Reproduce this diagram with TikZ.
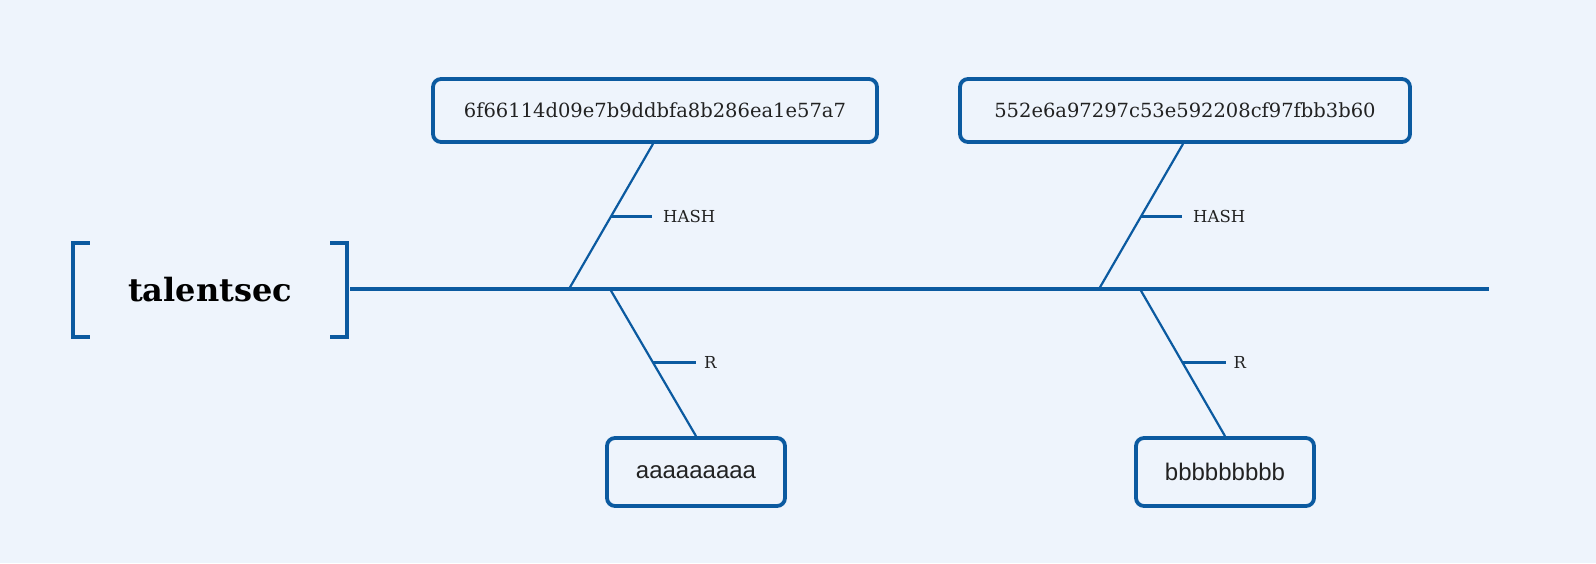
\documentclass[tikz,border=0pt]{standalone}
\usepackage{fontspec}
\setmainfont{DejaVu Serif}
\newfontfamily\leafsans{Liberation Sans}
\usetikzlibrary{positioning}
\definecolor{bone}{HTML}{0B5AA0}
\definecolor{paper}{HTML}{EEF4FC}
\definecolor{ink}{HTML}{222222}

\begin{document}
\begin{tikzpicture}[x=1pt,y=-1pt,
    spine/.style={draw=bone,line width=4pt},
    branch/.style={draw=bone,line width=2.2pt},
    hash node/.style={draw=bone,line width=3.8pt,rounded corners=8pt,fill=paper,text=ink,
      minimum height=63pt,font=\fontsize{19.5}{22}\selectfont},
    leaf node/.style={hash node,minimum width=178pt,minimum height=68pt,
      font=\leafsans\fontsize{24}{26}\selectfont},
    tag/.style={text=ink,anchor=west,inner sep=0pt,font=\fontsize{16.5}{18}\selectfont}]

  % page
  \fill[paper] (0,0) rectangle (1596,563);
  \useasboundingbox (0,0) rectangle (1596,563);

  % head of the fish
  \node[minimum width=274pt,minimum height=94pt,inner sep=0pt,text=black,
    font=\bfseries\fontsize{32}{34}\selectfont] (topic) at (210,290) {talentsec};
  \draw[spine,line cap=butt] ([xshift=17pt]topic.north west) -| (topic.south west) -- ++(17,0);
  \draw[spine,line cap=butt] ([xshift=-17pt]topic.north east) -| (topic.south east) -- ++(-17,0);

  \coordinate (tail) at (1489,289);
  \path[spine] (topic.east |- tail) ++(3,0) coordinate (head) -- (tail);

  % causes
  \node[hash node,minimum width=444pt] (h1) at (655,110.5) {6f66114d09e7b9ddbfa8b286ea1e57a7};
  \node[hash node,minimum width=450pt] (h2) at (1185,110.5) {552e6a97297c53e592208cf97fbb3b60};
  \node[leaf node] (r1) at (696,472) {aaaaaaaaa};
  \node[leaf node] (r2) at (1225,472) {bbbbbbbbb};

  \coordinate (s1) at (569,289);
  \coordinate (s2) at (610,289);
  \coordinate (s3) at (1099,289);
  \coordinate (s4) at (1140,289);

  \path[branch]
    (s1) -- coordinate[pos=.5] (m1) ([xshift=-2pt]h1.south)
    (s2) -- coordinate[pos=.5] (m2) (r1.north)
    (s3) -- coordinate[pos=.5] (m3) ([xshift=-2pt]h2.south)
    (s4) -- coordinate[pos=.5] (m4) (r2.north);

  \node[tag] (t1) at ([xshift=52pt]m1) {HASH};
  \node[tag] (t2) at ([xshift=51pt]m2) {R};
  \node[tag] (t3) at ([xshift=52pt]m3) {HASH};
  \node[tag] (t4) at ([xshift=51pt]m4) {R};

  \path[branch]
    (m1) -- ++(41,0) (m2) -- ++(43,0)
    (m3) -- ++(41,0) (m4) -- ++(43,0);

\end{tikzpicture}
\end{document}
